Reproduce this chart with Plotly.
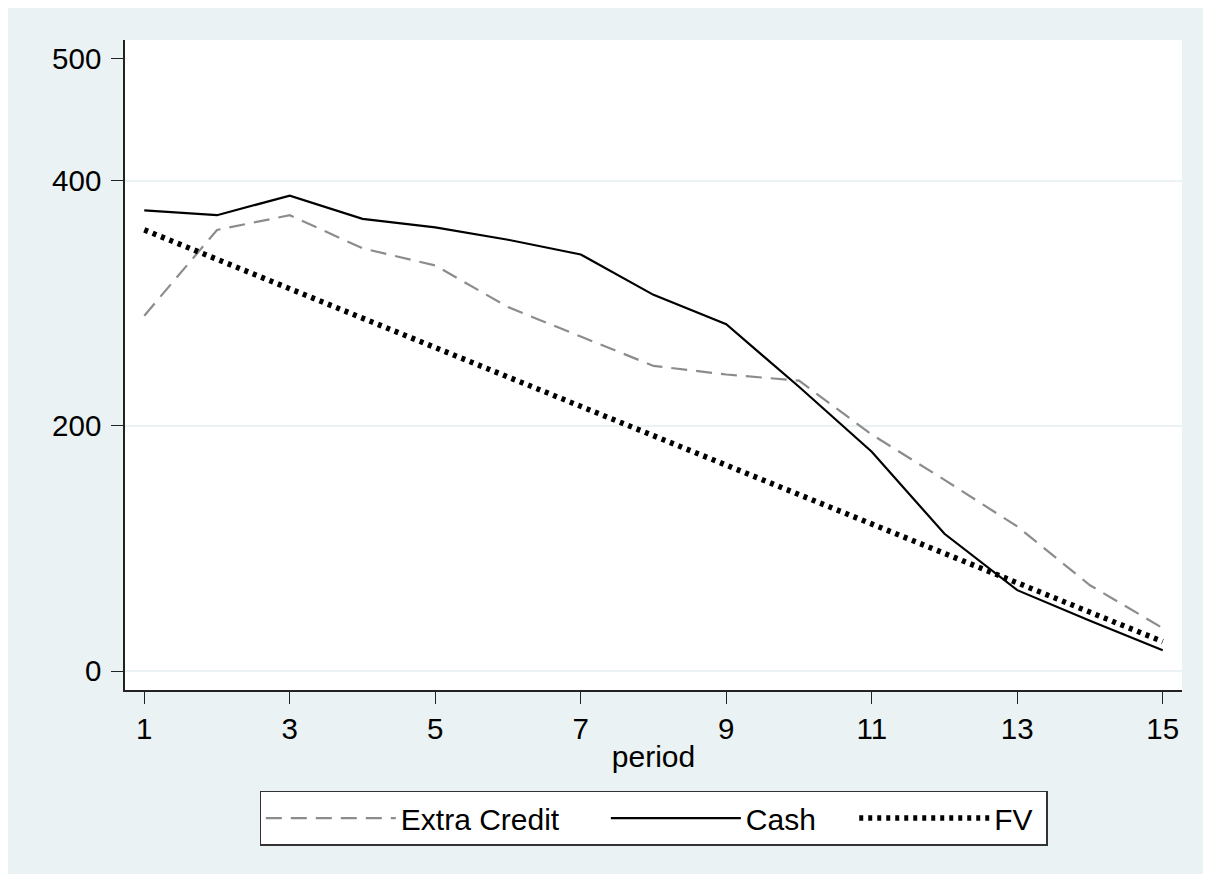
import plotly.graph_objects as go

period = list(range(1, 16))
extra_credit = [290, 360, 372, 345, 331, 297, 273, 249, 242, 237, 193, 156, 118, 70, 35]
cash = [376, 372, 388, 369, 362, 352, 340, 307, 283, 232, 179, 112, 66, 41, 17]
fv = [360, 336, 312, 288, 264, 240, 216, 192, 168, 144, 120, 96, 72, 48, 24]

series_names = ["Extra Credit", "Cash", "FV"]
x_ticks = [1, 3, 5, 7, 9, 11, 13, 15]
y_ticks = [0, 200, 400, 500]
y_grid = [0, 200, 400]

FONT = "Liberation Sans, Arial, sans-serif"
BG = "#EAF2F3"
y_range = [-15.5, 515]
NB = "\u00a0"

fig = go.Figure()
fig.add_trace(go.Scatter(x=period, y=extra_credit, mode="lines", name=series_names[0] + NB * 5,
                         line=dict(color="#8C8C8C", width=2.2, dash="16px,9px")))
fig.add_trace(go.Scatter(x=period, y=cash, mode="lines", name=series_names[1] + NB * 4,
                         line=dict(color="#000000", width=2.2)))
fig.add_trace(go.Scatter(x=period, y=fv, mode="lines", name=series_names[2] + NB,
                         line=dict(color="#000000", width=5.5, dash="4px,5px")))
fig.add_trace(go.Scatter(x=[period[0]], y=[None], yaxis="y2", showlegend=False,
                         hoverinfo="skip", mode="lines"))

fig.update_layout(
    width=1195, height=866,
    paper_bgcolor=BG, plot_bgcolor="white",
    margin=dict(l=117, r=21, t=32, b=184),
    font=dict(family=FONT, size=30, color="black"),
    xaxis=dict(range=[0.735, 15.265], tickvals=x_ticks, ticks="outside", ticklen=12,
               tickwidth=1.3, tickcolor="#222", showline=True, linecolor="#222", linewidth=1.5,
               showgrid=False, zeroline=False,
               title=dict(text="period", standoff=2, font=dict(size=30)),
               tickfont=dict(size=29.5)),
    yaxis=dict(range=y_range, tickvals=y_ticks, ticks="outside", ticklen=12,
               tickwidth=1.3, tickcolor="#222", showline=True, linecolor="#222", linewidth=1.5,
               showgrid=False, zeroline=False, tickfont=dict(size=29.5), ticklabelstandoff=4),
    yaxis2=dict(range=y_range, overlaying="y", anchor="x", side="left", tickvals=y_grid,
                showgrid=True, gridcolor=BG, gridwidth=2, showticklabels=False,
                ticks="", showline=False, zeroline=False),
    legend=dict(orientation="h", x=0.5, xanchor="center", y=-0.155, yanchor="top",
                bgcolor="white", bordercolor="#333", borderwidth=1.3,
                font=dict(size=30), itemwidth=130, traceorder="normal"),
    showlegend=True,
)

fig.write_html("out.html")
